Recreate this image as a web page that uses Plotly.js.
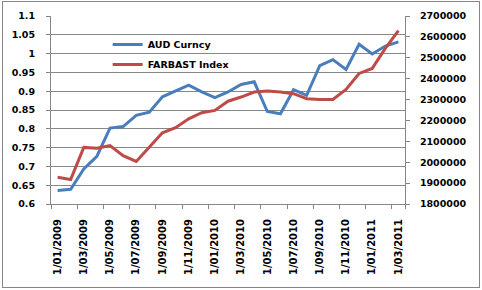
<!DOCTYPE html>
<html>
<head>
<meta charset="utf-8">
<script src="https://cdn.plot.ly/plotly-3.0.1.min.js"></script>
<style>
html,body{margin:0;padding:0;background:#fff;}
#wrap{position:relative;width:482px;height:290px;}
#chart{width:482px;height:290px;}
#frame{position:absolute;left:2px;top:1px;width:476px;height:285px;border:1px solid #868686;pointer-events:none;}
</style>
</head>
<body>
<div id="wrap"><div id="chart"></div><div id="frame"></div></div>
<script>
var categories = ["1/01/2009","1/02/2009","1/03/2009","1/04/2009","1/05/2009","1/06/2009","1/07/2009","1/08/2009","1/09/2009","1/10/2009","1/11/2009","1/12/2009",
  "1/01/2010","1/02/2010","1/03/2010","1/04/2010","1/05/2010","1/06/2010","1/07/2010","1/08/2010","1/09/2010","1/10/2010","1/11/2010","1/12/2010",
  "1/01/2011","1/02/2011","1/03/2011"];
var audCurncy = [0.636,0.639,0.693,0.727,0.802,0.806,0.836,0.844,0.885,0.901,0.916,0.898,0.883,0.898,0.918,0.925,0.846,0.840,0.904,0.889,0.968,0.984,0.958,1.025,0.999,1.020,1.031];
var farbastIndex = [1928000,1917000,2071000,2067000,2080000,2031000,2004000,2072000,2141000,2165000,2208000,2237000,2248000,2292000,2312000,2336000,2341000,2336000,2328000,2304000,2300000,2300000,2348000,2425000,2449000,2545000,2630000];
var leftTickVals = [0.6,0.65,0.7,0.75,0.8,0.85,0.9,0.95,1,1.05,1.1];
var leftTickText = ["0.6","0.65","0.7","0.75","0.8","0.85","0.9","0.95","1","1.05","1.1"];
var xTickLabels = categories.filter(function(c, i){ return i % 2 === 0; });

var grid = '#878787';
var tf = {family:'DejaVu Sans', size:9.5, color:'#000', weight:'bold'};

var traces = [
  {x: categories, y: audCurncy, name: 'AUD Curncy', type:'scatter', mode:'lines',
   line:{color:'#4A7EBB', width:3}, legendgroup:'a', yaxis:'y'},
  {x: categories, y: farbastIndex, name: 'FARBAST Index', type:'scatter', mode:'lines',
   line:{color:'#BE4B48', width:3}, legendgroup:'b', yaxis:'y2'}
];

var layout = {
  width:482, height:290,
  margin:{l:51, r:77, t:16, b:86, pad:0},
  paper_bgcolor:'#fff', plot_bgcolor:'#fff',
  showlegend:true,
  legend:{x:0.16, y:0.926, xanchor:'left', yanchor:'top', bgcolor:'rgba(0,0,0,0)',
    font:{family:'DejaVu Sans', size:9.5, color:'#000', weight:'bold'}, tracegroupgap:1, itemwidth:30},
  xaxis:{type:'category', range:[-0.5, 26.5], tickmode:'array', tickvals:xTickLabels, ticktext:xTickLabels,
    tickson:'boundaries', ticks:'outside', ticklen:4, tickcolor:grid, tickangle:-90,
    showline:true, linecolor:grid, linewidth:1, showgrid:false, zeroline:false,
    tickfont:{family:'DejaVu Sans', size:10, color:'#000', weight:'bold'}, ticklabelstandoff:10},
  yaxis:{range:[0.6,1.1], tickmode:'array', tickvals:leftTickVals, ticktext:leftTickText,
    ticks:'outside', ticklen:4, tickcolor:grid, showline:true, linecolor:grid, linewidth:1,
    showgrid:true, gridcolor:grid, gridwidth:1, zeroline:false, tickfont:tf, ticklabelstandoff:9},
  yaxis2:{overlaying:'y', side:'right', range:[1800000,2700000], dtick:100000, tick0:1800000, tickformat:'d',
    ticks:'outside', ticklen:4, tickcolor:grid, showline:true, linecolor:grid, linewidth:1,
    showgrid:false, zeroline:false, tickfont:tf, ticklabelstandoff:8}
};

Plotly.newPlot('chart', traces, layout, {staticPlot:true, displayModeBar:false});
</script>
</body>
</html>
